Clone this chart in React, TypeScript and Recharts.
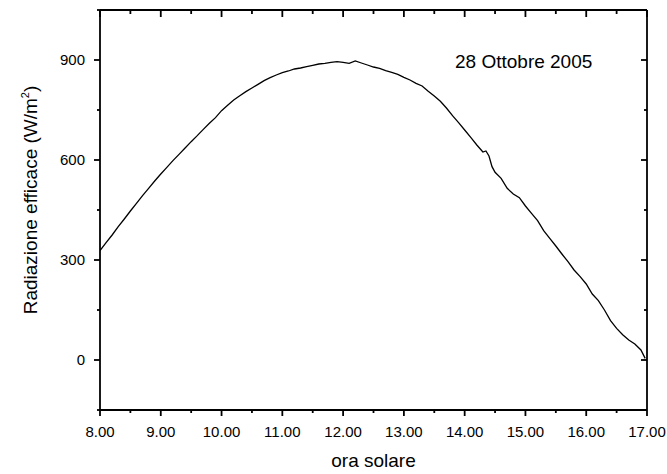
import React from "react";
import { LineChart, Line, XAxis, YAxis, Label } from "recharts";

// Solar time (hours) and effective radiation (W/m²)
const hours = [
  8.0, 8.1, 8.2, 8.3, 8.4, 8.5, 8.6, 8.7, 8.8, 8.9,
  9.0, 9.1, 9.2, 9.3, 9.4, 9.5, 9.6, 9.7, 9.8, 9.9,
  10.0, 10.1, 10.2, 10.3, 10.4, 10.5, 10.6, 10.7, 10.8, 10.9,
  11.0, 11.1, 11.2, 11.3, 11.4, 11.5, 11.6, 11.7, 11.8, 11.9,
  12.0, 12.1, 12.2, 12.3, 12.4, 12.5, 12.6, 12.7, 12.8, 12.9,
  13.0, 13.1, 13.2, 13.3, 13.4, 13.5, 13.6, 13.7, 13.8, 13.9,
  14.0, 14.1, 14.2, 14.3, 14.35, 14.4, 14.45, 14.5, 14.6, 14.7, 14.8, 14.9,
  15.0, 15.1, 15.2, 15.3, 15.4, 15.5, 15.6, 15.7, 15.8, 15.9,
  16.0, 16.1, 16.2, 16.3, 16.4, 16.5, 16.6, 16.7, 16.8, 16.9, 16.97,
];
const radiation = [
  328, 352, 375, 400, 423, 447, 470, 493, 515, 537,
  558, 578, 598, 617, 636, 655, 673, 692, 710, 727,
  748, 764, 780, 793, 805, 816, 827, 838, 847, 855,
  862, 867, 873, 876, 880, 884, 888, 890, 893, 895,
  893, 890, 897, 891, 885, 879, 875, 868, 863, 857,
  848, 840, 830, 822, 806, 792, 776, 756, 733, 712,
  690, 668, 645, 624, 627, 612, 580, 563, 545, 515, 498, 487,
  462, 440, 418, 388, 365, 342, 318, 295, 270, 250,
  228, 198, 178, 150, 118, 95, 76, 60, 48, 30, 5,
];

const xTicks = [8, 8.5, 9, 9.5, 10, 10.5, 11, 11.5, 12, 12.5, 13, 13.5, 14, 14.5, 15, 15.5, 16, 16.5, 17];
const yTicks = [-150, 0, 150, 300, 450, 600, 750, 900, 1050];
const yLabelTicks = [0, 300, 600, 900];

const titleText = "28 Ottobre 2005";
const xTitle = "ora solare";

const data = hours.map((h, i) => ({ h, r: radiation[i] }));

const FONT = "'Liberation Sans', Arial, sans-serif";
const MAJ = 6;
const MIN = 3;
const AX = 1.8;

const isMajorX = (v: number) => Math.abs(v - Math.round(v)) < 1e-6;
const isMajorY = (v: number) => yLabelTicks.includes(v);

const BottomTick = (p: any) => {
  const { x, y, payload } = p;
  const major = isMajorX(payload.value);
  return (
    <g>
      <line x1={x} y1={y} x2={x} y2={y + (major ? MAJ : MIN)} stroke="#000" strokeWidth={AX} />
      {major && (
        <text x={x} y={y + 27} textAnchor="middle" fontSize={15} fontFamily={FONT} fill="#000">
          {payload.value.toFixed(2)}
        </text>
      )}
    </g>
  );
};

const TopTick = (p: any) => {
  const { x, y, payload } = p;
  const major = isMajorX(payload.value);
  return <line x1={x} y1={y} x2={x} y2={y + (major ? MAJ + 1 : MIN + 1)} stroke="#000" strokeWidth={AX} />;
};

const LeftTick = (p: any) => {
  const { x, y, payload } = p;
  const major = isMajorY(payload.value);
  return (
    <g>
      <line x1={x} y1={y} x2={x - (major ? MAJ : MIN)} y2={y} stroke="#000" strokeWidth={AX} />
      {major && (
        <text x={x - 15} y={y + 5.4} textAnchor="end" fontSize={15} fontFamily={FONT} fill="#000">
          {payload.value}
        </text>
      )}
    </g>
  );
};

const RightTick = (p: any) => {
  const { x, y, payload } = p;
  const major = isMajorY(payload.value);
  return <line x1={x} y1={y} x2={x - (major ? MAJ : MIN)} y2={y} stroke="#000" strokeWidth={AX} />;
};

const YTitle = (p: any) => {
  const vb = p.viewBox || { x: 40, y: 10, width: 60, height: 400 };
  const cx = vb.x - 3;
  const cy = vb.y + vb.height / 2 - 10;
  return (
    <text
      x={cx}
      y={cy}
      transform={`rotate(-90, ${cx}, ${cy})`}
      textAnchor="middle"
      fontSize={19}
      fontFamily={FONT}
      fill="#000"
    >
      <tspan>Radiazione efficace (W/m</tspan>
      <tspan fontSize={11} dy={-8}>2</tspan>
      <tspan dy={8}>)</tspan>
    </text>
  );
};

const XTitle = (p: any) => {
  const vb = p.viewBox || { x: 100, y: 410, width: 547, height: 30 };
  return (
    <text x={vb.x + vb.width / 2} y={467} textAnchor="middle" fontSize={19} fontFamily={FONT} fill="#000">
      {xTitle}
    </text>
  );
};

const axisLine = { stroke: "#000", strokeWidth: AX };

export default function App() {
  return (
    <div style={{ position: "absolute", left: 0, top: 0, width: 667, height: 474, background: "#fff" }}>
      <LineChart
        width={667}
        height={474}
        data={data}
        margin={{ top: 10, right: 20, bottom: 34, left: 40 }}
      >
        <XAxis
          xAxisId="b"
          dataKey="h"
          type="number"
          domain={[8, 17]}
          ticks={xTicks}
          interval={0}
          allowDataOverflow
          height={30}
          tickSize={0}
          tickMargin={0}
          tickLine={false}
          stroke="#000"
          axisLine={axisLine}
          tick={<BottomTick />}
        >
          <Label content={<XTitle />} />
        </XAxis>
        <XAxis
          xAxisId="t"
          dataKey="h"
          type="number"
          orientation="top"
          mirror
          domain={[8, 17]}
          ticks={xTicks}
          interval={0}
          allowDataOverflow
          height={1}
          tickSize={0}
          tickMargin={0}
          tickLine={false}
          stroke="#000"
          axisLine={axisLine}
          tick={<TopTick />}
        />
        <YAxis
          yAxisId="l"
          type="number"
          domain={[-150, 1050]}
          ticks={yTicks}
          interval={0}
          allowDataOverflow
          width={60}
          tickSize={0}
          tickMargin={0}
          tickLine={false}
          stroke="#000"
          axisLine={axisLine}
          tick={<LeftTick />}
        >
          <Label content={<YTitle />} />
        </YAxis>
        <YAxis
          yAxisId="r"
          type="number"
          orientation="right"
          mirror
          domain={[-150, 1050]}
          ticks={yTicks}
          interval={0}
          allowDataOverflow
          width={1}
          tickSize={0}
          tickMargin={0}
          tickLine={false}
          stroke="#000"
          axisLine={axisLine}
          tick={<RightTick />}
        />
        <Line
          xAxisId="b"
          yAxisId="l"
          dataKey="r"
          type="linear"
          stroke="#000"
          strokeWidth={1.3}
          dot={false}
          isAnimationActive={false}
        />
      </LineChart>
      <div
        style={{
          position: "absolute",
          left: 455,
          top: 49,
          fontFamily: FONT,
          fontSize: 19,
          lineHeight: "26px",
          color: "#000",
          whiteSpace: "nowrap",
        }}
      >
        {titleText}
      </div>
    </div>
  );
}
